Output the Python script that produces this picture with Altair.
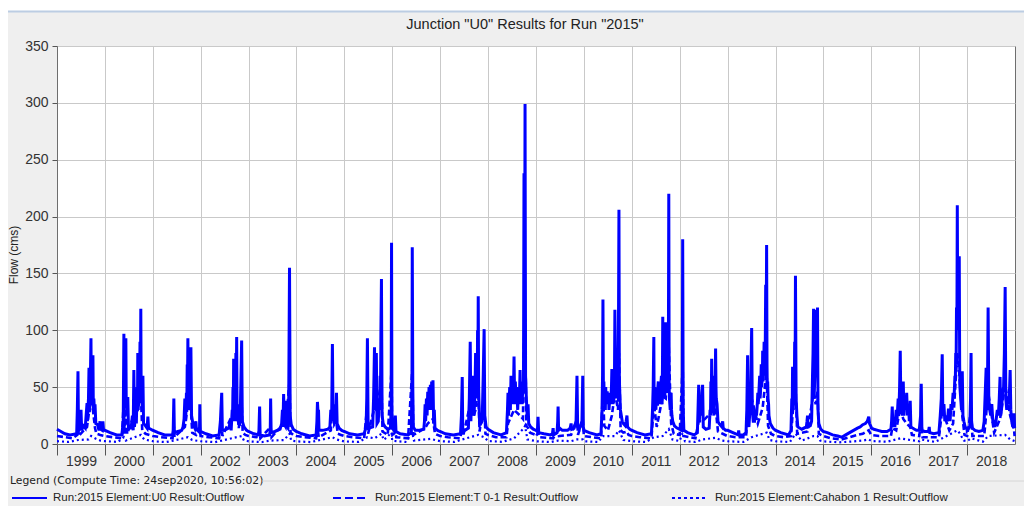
import altair as alt
import pandas as pd

YEARS = list(range(1999, 2019))

# ---- Run:2015 Element:U0 Result:Outflow  (day-of-year, flow cms) ----
U0_1999 = [(0,13),(30,11),(60,9),(100,8),(150,9),(155,30),(160,64),(164,12),(175,14),(183,30),(188,12),(200,16),(215,14),(222,25),(229,36),(232,20),(236,30),(240,40),(244,67),(247,28),(251,45),(254,55),(259,93),(262,35),(265,50),(268,60),(271,40),(274,78),(277,30),(281,40),(285,30),(290,35),(296,18),(310,17),(320,12),(328,20),(332,13),(345,12),(350,20),(355,12),(364,12)]
U0_2000 = [(0,12),(40,10),(90,8),(130,8),(140,20),(145,97),(148,40),(152,60),(156,45),(160,93),(163,35),(167,30),(171,40),(175,40),(180,14),(200,14),(210,25),(216,12),(221,65),(226,15),(235,30),(240,18),(246,50),(249,35),(251,80),(254,30),(258,45),(262,40),(265,60),(268,90),(271,50),(274,119),(277,40),(281,50),(285,30),(290,60),(295,18),(310,16),(322,14),(328,24),(333,14),(350,13),(364,12)]
U0_2001 = [(0,12),(40,10),(90,8),(150,8),(155,12),(160,40),(164,10),(190,11),(220,12),(230,15),(238,22),(244,40),(250,20),(256,45),(259,35),(262,70),(264,45),(267,93),(270,40),(272,30),(275,45),(278,50),(281,40),(284,80),(287,45),(290,85),(295,25),(305,18),(320,14),(328,20),(332,13),(350,11),(356,15),(358,35),(362,11)]
U0_2002 = [(0,11),(40,9),(90,7),(140,8),(150,20),(155,33),(160,45),(165,12),(180,12),(215,14),(225,20),(232,12),(240,30),(243,25),(246,50),(249,35),(251,75),(254,30),(256,20),(259,40),(262,45),(265,35),(268,80),(271,45),(274,94),(277,30),(279,20),(285,25),(290,35),(295,16),(302,30),(307,60),(312,91),(317,20),(330,15),(350,12),(364,11)]
U0_2003 = [(0,11),(40,9),(78,8),(84,33),(88,8),(120,7),(160,8),(165,12),(168,40),(172,10),(200,11),(240,13),(252,18),(258,30),(262,15),(267,44),(272,18),(278,25),(282,38),(287,16),(300,14),(306,40),(312,155),(317,25),(325,17),(340,13),(364,11)]
U0_2004 = [(0,11),(40,9),(100,7),(150,8),(156,20),(160,37),(164,28),(168,30),(172,12),(200,12),(240,13),(255,15),(262,30),(268,20),(274,88),(279,25),(285,35),(290,18),(300,20),(305,45),(310,18),(325,14),(345,12),(364,11)]
U0_2005 = [(0,11),(40,9),(100,8),(150,9),(165,15),(170,40),(175,93),(180,20),(190,14),(215,15),(222,40),(226,65),(229,85),(233,30),(236,40),(238,50),(243,80),(248,18),(258,20),(266,40),(269,30),(272,60),(275,45),(278,100),(282,145),(287,25),(295,18),(310,15),(330,13),(350,14),(356,30),(359,177),(362,30)]
U0_2006 = [(0,14),(12,12),(23,25),(28,11),(60,9),(120,8),(145,10),(150,60),(152,173),(156,50),(160,15),(175,12),(200,12),(240,13),(245,20),(250,35),(254,20),(260,40),(265,25),(270,46),(275,30),(280,50),(285,30),(290,52),(295,30),(300,55),(305,30),(310,56),(315,18),(320,30),(325,14),(345,12),(364,11)]
U0_2007 = [(0,11),(40,9),(100,8),(155,9),(162,25),(168,59),(172,12),(190,12),(215,14),(222,40),(229,90),(234,20),(240,45),(246,30),(252,60),(258,25),(265,45),(270,80),(273,45),(275,40),(280,70),(283,60),(285,100),(288,70),(290,130),(293,50),(295,40),(300,20),(310,18),(320,20),(328,60),(335,101),(340,25),(350,15),(364,13)]
U0_2008 = [(0,13),(40,10),(100,8),(140,10),(148,30),(152,45),(156,25),(160,35),(165,50),(170,30),(175,60),(180,35),(186,45),(192,35),(198,77),(203,35),(208,55),(214,35),(220,45),(226,30),(232,50),(238,35),(244,65),(249,35),(255,45),(260,35),(266,55),(270,45),(274,238),(278,60),(282,299),(286,60),(292,40),(298,25),(305,35),(310,18),(325,15),(345,13),(364,12)]
U0_2009 = [(0,12),(10,11),(15,24),(20,10),(60,9),(110,8),(125,9),(130,14),(134,8),(160,10),(165,20),(168,33),(172,12),(180,14),(200,12),(240,12),(260,14),(267,18),(272,13),(290,14),(305,20),(312,60),(317,15),(330,13),(350,20),(356,60),(360,15),(364,13)]
U0_2010 = [(0,12),(40,10),(100,8),(130,9),(138,30),(142,60),(145,127),(149,35),(152,55),(155,40),(160,45),(163,30),(166,50),(170,35),(172,45),(178,45),(181,35),(183,40),(188,45),(191,30),(194,35),(200,45),(203,35),(206,40),(210,50),(213,66),(216,40),(218,45),(221,35),(224,50),(227,40),(230,45),(233,60),(236,118),(239,45),(241,55),(245,40),(248,55),(251,45),(254,40),(257,60),(260,80),(264,120),(267,206),(270,60),(272,50),(275,40),(278,30),(285,25),(292,20),(300,18),(315,16),(322,20),(328,25),(333,15),(350,13),(364,12)]
U0_2011 = [(0,12),(40,10),(100,8),(150,9),(158,30),(163,50),(168,94),(170,40),(172,35),(175,50),(178,45),(181,35),(184,30),(187,45),(190,40),(193,35),(196,35),(199,50),(202,55),(205,40),(208,35),(211,50),(214,45),(217,40),(220,35),(223,55),(226,60),(228,40),(231,35),(234,70),(236,112),(239,50),(241,40),(244,55),(247,60),(250,45),(252,40),(255,60),(259,107),(262,50),(264,45),(267,65),(270,60),(273,45),(275,50),(279,80),(282,220),(285,50),(287,40),(290,35),(293,30),(296,40),(300,45),(303,30),(306,25),(312,20),(325,16),(345,14),(364,13)]
U0_2012 = [(0,13),(15,12),(20,40),(23,180),(27,30),(32,12),(60,10),(110,8),(135,10),(140,30),(145,52),(150,20),(158,35),(165,25),(170,45),(175,52),(180,15),(200,13),(225,14),(232,30),(235,25),(238,55),(241,35),(244,75),(247,40),(249,30),(252,40),(255,45),(258,30),(261,25),(264,45),(267,60),(270,45),(274,84),(277,50),(279,40),(285,35),(292,20),(300,18),(315,16),(322,15),(328,20),(332,14),(350,12),(364,12)]
U0_2013 = [(0,12),(40,10),(80,8),(84,12),(88,8),(120,8),(140,10),(146,30),(152,78),(156,20),(162,15),(170,30),(176,50),(183,102),(188,30),(195,20),(205,20),(212,30),(220,25),(226,35),(230,45),(233,35),(236,40),(240,50),(244,60),(247,40),(250,45),(253,55),(256,70),(259,50),(262,55),(265,60),(267,82),(270,55),(272,60),(275,70),(278,90),(281,65),(284,60),(287,90),(290,140),(293,80),(297,175),(300,70),(302,50),(305,55),(308,40),(312,35),(315,25),(325,18),(345,14),(364,12)]
U0_2014 = [(0,12),(40,10),(100,8),(118,12),(124,40),(127,30),(130,68),(133,40),(135,30),(140,60),(143,45),(146,90),(149,50),(152,148),(157,40),(163,25),(170,15),(200,13),(235,15),(240,20),(244,25),(248,15),(265,16),(275,20),(282,60),(286,80),(290,119),(294,40),(300,60),(306,90),(312,118),(316,60),(320,120),(324,30),(330,18),(345,13),(364,11)]
U0_2015 = [(0,11),(30,10),(70,8),(110,7),(140,6),(170,8),(200,10),(230,12),(260,14),(280,15),(300,17),(320,18),(335,20),(346,24),(352,18),(364,15)]
U0_2016 = [(0,14),(20,13),(50,12),(80,11),(120,11),(150,13),(155,20),(160,33),(165,15),(172,20),(180,15),(190,30),(196,20),(205,40),(210,25),(216,50),(221,82),(226,30),(232,40),(238,25),(244,55),(249,25),(255,40),(262,30),(270,45),(276,25),(284,35),(290,20),(297,38),(302,15),(315,14),(330,13),(345,12),(364,12)]
U0_2017 = [(0,12),(10,25),(15,53),(20,12),(40,11),(70,11),(76,15),(80,10),(110,9),(150,10),(160,25),(168,40),(175,79),(180,25),(188,35),(195,20),(205,25),(215,20),(222,30),(229,30),(235,20),(242,35),(250,30),(258,45),(265,40),(272,60),(275,55),(278,80),(281,70),(284,120),(287,100),(290,210),(293,120),(296,100),(299,110),(301,130),(303,100),(305,165),(308,70),(310,50),(316,40),(322,30),(328,64),(333,25),(340,20),(350,15),(364,13)]
U0_2018 = [(0,12),(20,15),(26,40),(30,80),(34,20),(40,14),(60,12),(90,11),(120,12),(130,20),(138,45),(145,67),(150,30),(156,60),(160,120),(165,40),(172,30),(180,25),(188,35),(196,20),(206,20),(212,15),(220,20),(230,30),(238,25),(245,40),(251,59),(256,25),(262,30),(270,45),(278,50),(284,80),(290,138),(295,40),(302,30),(310,40),(318,35),(324,50),(328,65),(333,30),(340,20),(348,15),(354,20),(358,27),(362,14)]

# ---- Run:2015 Element:T 0-1 Result:Outflow ----
T01_1999 = [(0,7),(60,6),(120,5),(155,8),(160,25),(165,7),(229,15),(244,28),(259,38),(274,30),(290,14),(300,9),(330,8),(364,7)]
T01_2000 = [(0,7),(60,6),(130,5),(145,40),(150,9),(160,35),(170,9),(221,25),(251,30),(274,45),(285,12),(310,9),(340,8),(364,7)]
T01_2001 = [(0,7),(60,6),(150,5),(160,15),(165,6),(244,15),(267,35),(290,30),(300,10),(330,8),(358,14),(364,7)]
T01_2002 = [(0,7),(60,6),(140,5),(160,18),(165,7),(251,28),(274,35),(290,14),(312,35),(320,10),(340,8),(364,7)]
T01_2003 = [(0,7),(60,6),(84,12),(90,5),(168,15),(175,6),(267,18),(282,15),(312,55),(320,10),(340,8),(364,7)]
T01_2004 = [(0,7),(60,6),(150,5),(160,15),(170,6),(262,12),(274,33),(305,18),(315,9),(340,8),(364,7)]
T01_2005 = [(0,7),(60,6),(150,5),(175,35),(180,9),(229,32),(243,30),(282,55),(290,11),(330,8),(359,65),(364,9)]
T01_2006 = [(0,8),(23,10),(30,6),(120,5),(152,65),(160,8),(250,14),(270,18),(290,20),(310,22),(325,9),(364,7)]
T01_2007 = [(0,7),(60,6),(155,5),(168,22),(175,7),(229,35),(252,24),(270,30),(290,50),(300,11),(335,38),(345,9),(364,8)]
T01_2008 = [(0,8),(60,6),(140,6),(152,18),(175,24),(198,30),(244,25),(266,22),(274,90),(282,110),(292,16),(305,14),(320,10),(364,8)]
T01_2009 = [(0,7),(15,10),(25,6),(130,5),(168,12),(175,7),(267,8),(312,22),(320,8),(356,22),(364,8)]
T01_2010 = [(0,7),(60,6),(130,5),(145,48),(155,16),(183,12),(213,25),(236,45),(260,30),(267,80),(280,12),(300,10),(328,11),(340,8),(364,7)]
T01_2011 = [(0,7),(60,6),(150,5),(168,36),(190,15),(202,22),(236,42),(259,40),(282,85),(300,18),(320,9),(364,8)]
T01_2012 = [(0,8),(23,70),(30,7),(120,5),(145,20),(175,20),(244,28),(274,32),(292,11),(328,9),(364,7)]
T01_2013 = [(0,7),(60,6),(140,6),(152,30),(183,40),(230,18),(267,32),(297,65),(308,16),(330,9),(364,7)]
T01_2014 = [(0,7),(60,6),(118,7),(130,26),(152,55),(165,9),(244,11),(290,45),(306,35),(320,46),(330,9),(364,7)]
T01_2015 = [(0,7),(60,5),(140,4),(200,6),(260,8),(300,9),(346,12),(364,8)]
T01_2016 = [(0,8),(60,7),(150,7),(160,14),(190,12),(221,32),(244,22),(270,18),(297,15),(310,8),(364,7)]
T01_2017 = [(0,7),(15,22),(25,6),(150,6),(175,30),(229,12),(258,18),(290,80),(305,62),(328,25),(345,8),(364,7)]
T01_2018 = [(0,7),(30,30),(40,7),(130,7),(145,26),(160,46),(206,10),(251,22),(290,52),(328,25),(358,12),(362,7)]

# ---- Run:2015 Element:Cahabon 1 Result:Outflow ----
CAH_1999 = [(0,2.5),(90,1.8),(160,3.5),(240,4),(260,7),(290,5),(330,3),(364,2.5)]
CAH_2000 = [(0,2.5),(100,1.8),(145,6),(160,3),(274,8),(300,4),(364,2.5)]
CAH_2001 = [(0,2.4),(100,1.7),(160,3),(267,6),(300,3.5),(364,2.4)]
CAH_2002 = [(0,2.4),(110,1.7),(160,3),(274,6),(312,7),(330,3),(364,2.4)]
CAH_2003 = [(0,2.3),(100,1.7),(168,3),(270,3.5),(312,9),(325,3),(364,2.3)]
CAH_2004 = [(0,2.3),(110,1.7),(160,3),(274,6),(305,4),(364,2.3)]
CAH_2005 = [(0,2.3),(110,1.8),(175,6),(229,5),(282,9),(300,3.5),(359,10),(364,3)]
CAH_2006 = [(0,2.8),(100,1.8),(152,10),(165,3),(290,4.5),(364,2.5)]
CAH_2007 = [(0,2.5),(110,1.8),(168,4),(229,6),(290,8),(335,6),(364,2.8)]
CAH_2008 = [(0,2.6),(110,1.9),(198,5),(274,14),(282,16),(300,4),(364,2.6)]
CAH_2009 = [(0,2.4),(110,1.7),(168,3),(267,2.5),(312,4),(356,4),(364,2.4)]
CAH_2010 = [(0,2.4),(110,1.8),(145,7),(236,7),(267,12),(300,3.5),(364,2.5)]
CAH_2011 = [(0,2.4),(110,1.8),(168,6),(236,7),(282,13),(310,4),(364,2.6)]
CAH_2012 = [(0,2.6),(23,10),(40,2.4),(120,1.8),(175,4),(274,5.5),(320,3),(364,2.4)]
CAH_2013 = [(0,2.4),(120,1.8),(183,6),(297,10),(320,3.5),(364,2.4)]
CAH_2014 = [(0,2.4),(110,1.8),(152,9),(200,3),(290,7),(320,7),(340,3),(364,2.4)]
CAH_2015 = [(0,2.3),(120,1.5),(220,2.2),(300,3),(346,4),(364,2.8)]
CAH_2016 = [(0,2.6),(120,2),(221,5),(297,3.5),(364,2.4)]
CAH_2017 = [(0,2.4),(15,4),(120,1.8),(175,5),(290,12),(305,10),(340,3),(364,2.5)]
CAH_2018 = [(0,2.6),(30,5),(120,2),(160,7),(290,8),(328,4),(362,2.6)]

Y_TICKS = [0, 50, 100, 150, 200, 250, 300, 350]
TITLE = 'Junction "U0" Results for Run "2015"'
LEGEND_TITLE = "Legend (Compute Time: 24sep2020, 10:56:02)"
LABEL_U0 = "Run:2015 Element:U0 Result:Outflow"
LABEL_T01 = "Run:2015 Element:T 0-1 Result:Outflow"
LABEL_CAH = "Run:2015 Element:Cahabon 1 Result:Outflow"

U0 = [U0_1999, U0_2000, U0_2001, U0_2002, U0_2003, U0_2004, U0_2005, U0_2006, U0_2007, U0_2008,
      U0_2009, U0_2010, U0_2011, U0_2012, U0_2013, U0_2014, U0_2015, U0_2016, U0_2017, U0_2018]
T01 = [T01_1999, T01_2000, T01_2001, T01_2002, T01_2003, T01_2004, T01_2005, T01_2006, T01_2007, T01_2008,
       T01_2009, T01_2010, T01_2011, T01_2012, T01_2013, T01_2014, T01_2015, T01_2016, T01_2017, T01_2018]
CAH = [CAH_1999, CAH_2000, CAH_2001, CAH_2002, CAH_2003, CAH_2004, CAH_2005, CAH_2006, CAH_2007, CAH_2008,
       CAH_2009, CAH_2010, CAH_2011, CAH_2012, CAH_2013, CAH_2014, CAH_2015, CAH_2016, CAH_2017, CAH_2018]


def frame(per_year):
    rows = []
    for year, pts in zip(YEARS, per_year):
        start = pd.Timestamp(year=year, month=1, day=1)
        for doy, v in pts:
            rows.append({"date": (start + pd.Timedelta(days=doy)).strftime("%Y-%m-%d"), "flow": v})
    return pd.DataFrame(rows)


BLUE = "#0000ff"
AXIS_FONT = "Liberation Sans"
W, H = 958, 398

x_enc = alt.X(
    "date:T",
    scale=alt.Scale(domain=[alt.DateTime(year=1999, month=1, date=1),
                            alt.DateTime(year=2019, month=1, date=1)]),
    axis=alt.Axis(
        values=[alt.DateTime(year=y, month=1, date=1) for y in YEARS],
        format="%Y", formatType="time", title=None,
        labelOffset=24, labelFlush=False, labelOverlap=False,
        tickSize=11, labelPadding=-1, labelFontSize=14, labelFont=AXIS_FONT,
        labelColor="#333333", tickColor="#555555", domainColor="#6e6e6e",
        grid=True, gridColor="#c9c9c9",
    ),
)
y_enc = alt.Y(
    "flow:Q",
    scale=alt.Scale(domain=[0, 350], nice=False),
    axis=alt.Axis(
        values=Y_TICKS, title=None, tickSize=5, labelPadding=4,
        labelFontSize=14, labelFont=AXIS_FONT, labelColor="#333333",
        tickColor="#555555", domainColor="#6e6e6e",
        grid=True, gridColor="#c9c9c9",
    ),
)

u0_line = alt.Chart(frame(U0)).mark_line(color=BLUE, strokeWidth=3).encode(x=x_enc, y=y_enc)
t01_line = alt.Chart(frame(T01)).mark_line(color=BLUE, strokeWidth=2.6, strokeDash=[6, 3]).encode(x=x_enc, y=y_enc)
cah_line = alt.Chart(frame(CAH)).mark_line(color=BLUE, strokeWidth=2.2, strokeDash=[2, 3]).encode(x=x_enc, y=y_enc)

one = pd.DataFrame({"k": [0]})


def text(s, x, y, size, font=AXIS_FONT, align="left", angle=0):
    return alt.Chart(one).mark_text(
        align=align, baseline="middle", fontSize=size, font=font, color="#222222", angle=angle
    ).encode(x=alt.value(x), y=alt.value(y), text=alt.value(s))


def rule(x1, x2, y, color, width, dash=None):
    kw = dict(color=color, strokeWidth=width)
    if dash:
        kw["strokeDash"] = dash
    return alt.Chart(one).mark_rule(**kw).encode(
        x=alt.value(x1), x2=alt.value(x2), y=alt.value(y))


top_white = alt.Chart(one).mark_rect(color="white").encode(
    x=alt.value(-49), x2=alt.value(967), y=alt.value(-38), y2=alt.value(-35))
top_line = rule(-49, 967, -34.5, "#bccde3", 2)

title = text(TITLE, 468, -21, 14.5, align="center")
ytitle = text("Flow (cms)", -43, 209, 12, align="center", angle=270)

legend_title = text(LEGEND_TITLE, -47, 435, 10.8, font="DejaVu Sans")
sep = rule(205, 971, 435, "#d6d6d6", 1)
sym_u0 = rule(-45, -10, 452, BLUE, 2)
lab_u0 = text(LABEL_U0, -4, 452, 11.5)
sym_t01 = rule(276, 310, 452, BLUE, 2, [8, 4])
lab_t01 = text(LABEL_T01, 318, 452, 11.5)
sym_cah = rule(615, 650, 452, BLUE, 2, [3, 3])
lab_cah = text(LABEL_CAH, 658, 452, 11.5)

chart = alt.layer(
    top_white, top_line, cah_line, t01_line, u0_line,
    title, ytitle, legend_title, sep,
    sym_u0, lab_u0, sym_t01, lab_t01, sym_cah, lab_cah,
).properties(
    width=W, height=H,
    background="#efefef",
    padding={"left": 49, "top": 38, "right": 9, "bottom": 62},
    autosize=alt.AutoSizeParams(type="none"),
).configure_view(
    fill="white", stroke="#6e6e6e", strokeWidth=1,
)

chart.save("out.html", embed_options={"renderer": "svg", "actions": False})
